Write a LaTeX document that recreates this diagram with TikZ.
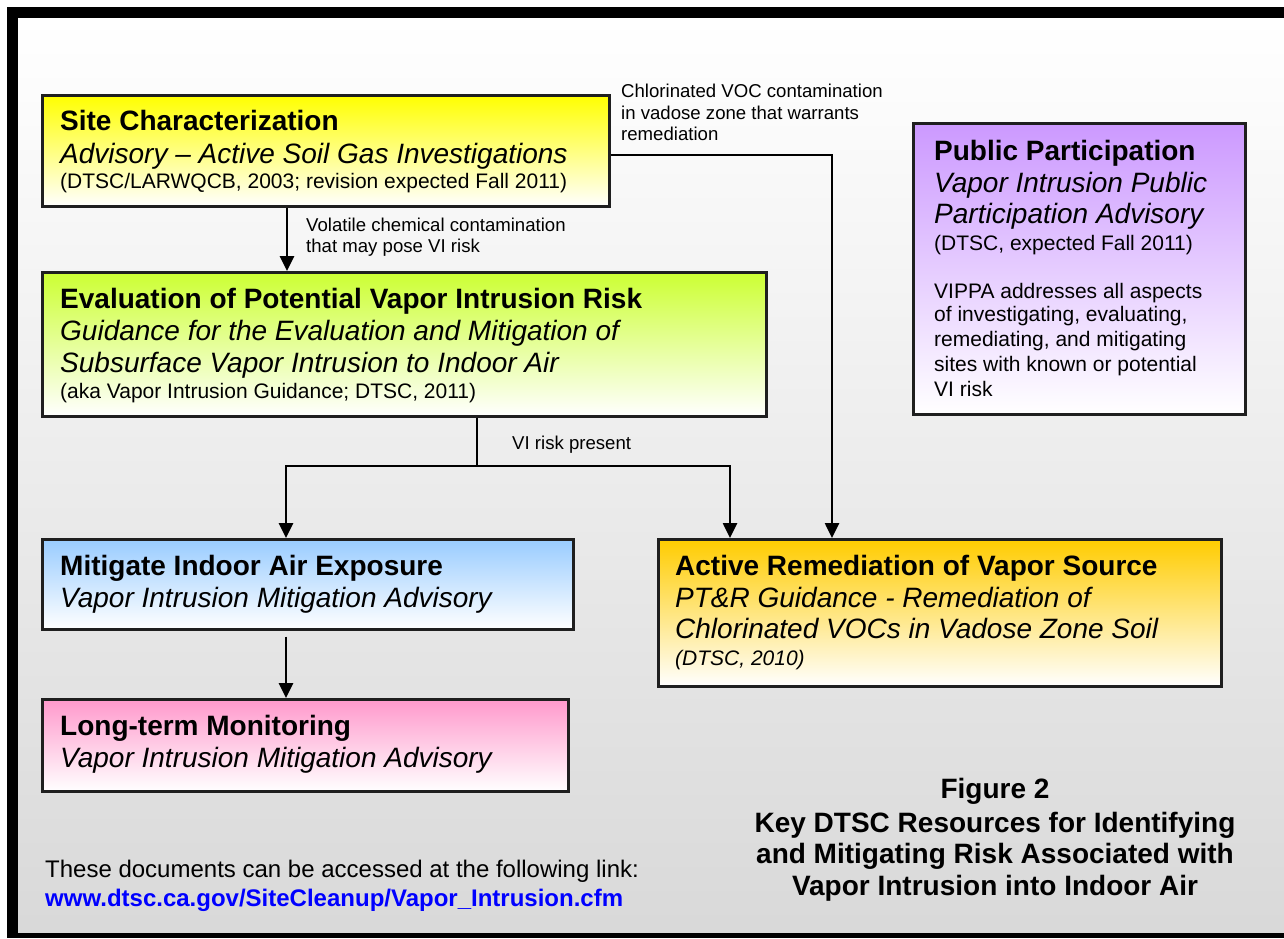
\documentclass[tikz,border=0pt]{standalone}
\usepackage{fontspec}
\setmainfont{Liberation Sans}
\usetikzlibrary{arrows.meta}
\definecolor{cyel}{HTML}{FFFF00}
\definecolor{cgrn}{HTML}{CCFF33}
\definecolor{cpur}{HTML}{CC99FF}
\definecolor{cblu}{HTML}{99CCFF}
\definecolor{cpnk}{HTML}{FF99CC}
\definecolor{corg}{HTML}{FFCC00}
\definecolor{clink}{HTML}{0000FF}
\begin{document}
\begin{tikzpicture}[x=1pt,y=-1pt,
  box/.style={draw=black!88, line width=2.6pt, inner sep=0pt, anchor=north west, bottom color=white},
  hd/.style={font=\fontsize{28}{32}\selectfont\bfseries, inner sep=0pt, anchor=base west},
  itl/.style={font=\fontsize{28}{32}\selectfont\itshape, inner sep=0pt, anchor=base west},
  sml/.style={font=\fontsize{21}{25}\selectfont, inner sep=0pt, anchor=base west},
  lbl/.style={font=\fontsize{18.6}{22}\selectfont, inner sep=0pt, anchor=base west},
  capt/.style={font=\fontsize{28}{32}\selectfont\bfseries, inner sep=0pt, anchor=base},
  foot/.style={font=\fontsize{24}{28}\selectfont, inner sep=0pt, anchor=base west},
  conn/.style={line width=2.6pt, draw=black},
  arr/.style={conn, -{Triangle[length=15pt,width=14pt]}}
]
\useasboundingbox (0,0) rectangle (1284,938);
% frame and background
\fill[white] (0,0) rectangle (1284,938);
\fill[black] (7,7) rectangle (1284,938);
\shade[top color=white, bottom color=black!15] (18,18) rectangle (1284,932);

% boxes
\node[box, top color=cyel, minimum width=567pt, minimum height=111pt] (site) at (41,94) {};
\node[box, top color=cgrn, minimum width=724pt, minimum height=144pt] (eval) at (41,271) {};
\node[box, top color=cpur, minimum width=332pt, minimum height=291pt] (pub) at (912,122) {};
\node[box, top color=cblu, minimum width=531pt, minimum height=90pt] (mit) at (41,538) {};
\node[box, top color=cpnk, minimum width=526pt, minimum height=92pt] (lt) at (41,698) {};
\node[box, top color=corg, minimum width=563pt, minimum height=147pt] (act) at (657,538) {};

% box texts
\node[hd] (siteA) at (60,130) {Site Characterization};
\node[itl] (siteB) at (60,163) {Advisory -- Active Soil Gas Investigations};
\node[sml] (siteC) at (60,188) {(DTSC/LARWQCB, 2003; revision expected Fall 2011)};

\node[hd] (evalA) at (60,308) {Evaluation of Potential Vapor Intrusion Risk};
\node[itl] (evalB) at (60,340) {Guidance for the Evaluation and Mitigation of};
\node[itl] (evalC) at (60,372) {Subsurface Vapor Intrusion to Indoor Air};
\node[sml] (evalD) at (60,398) {(aka Vapor Intrusion Guidance; DTSC, 2011)};

\node[hd] (pubA) at (934,160) {Public Participation};
\node[itl] (pubB) at (934,192) {Vapor Intrusion Public};
\node[itl] (pubC) at (934,223) {Participation Advisory};
\node[sml] (pubD) at (934,250) {(DTSC, expected Fall 2011)};
\node[sml] (pubE) at (934,298) {VIPPA addresses all aspects};
\node[sml] (pubF) at (934,321) {of investigating, evaluating,};
\node[sml] (pubG) at (934,346) {remediating, and mitigating};
\node[sml] (pubH) at (934,371) {sites with known or potential};
\node[sml] (pubI) at (934,396) {VI risk};

\node[hd] (mitA) at (60,575) {Mitigate Indoor Air Exposure};
\node[itl] (mitB) at (60,607) {Vapor Intrusion Mitigation Advisory};

\node[hd] (ltA) at (60,735) {Long-term Monitoring};
\node[itl] (ltB) at (60,767) {Vapor Intrusion Mitigation Advisory};

\node[hd] (actA) at (675,575) {Active Remediation of Vapor Source};
\node[itl] (actB) at (675,607) {PT\&R Guidance - Remediation of};
\node[itl] (actC) at (675,638) {Chlorinated VOCs in Vadose Zone Soil};
\node[sml, font=\fontsize{21}{25}\selectfont\itshape] (actD) at (675,665) {(DTSC, 2010)};

% connector labels
\node[lbl] (lblA1) at (621,97) {Chlorinated VOC contamination};
\node[lbl] (lblA2) at (621,119) {in vadose zone that warrants};
\node[lbl] (lblA3) at (621,140) {remediation};
\node[lbl] (lblB1) at (306,231) {Volatile chemical contamination};
\node[lbl] (lblB2) at (306,252) {that may pose VI risk};
\node[lbl] (lblC) at (512,449) {VI risk present};

% connectors
\coordinate (xa) at (287,0);
\coordinate (ya) at (0,155);
\coordinate (xb) at (832,0);
\coordinate (xs) at (477,0);
\coordinate (xl) at (286,0);
\coordinate (xr) at (730,0);
\coordinate (split) at (477,466);

\draw[arr] (site.south -| xa) -- (eval.north -| xa);
\draw[arr] (site.east |- ya) -| (act.north -| xb);
\draw[conn] (eval.south -| xs) -- (split);
\draw[arr] (split) -| (mit.north -| xl);
\draw[arr] (split) -| (act.north -| xr);
\draw[arr] ([yshift=-6pt]mit.south -| xl) -- (lt.north -| xl);

% caption
\node[capt] (capA) at (995,798) {Figure 2};
\node[capt] (capB) at (995,832) {Key DTSC Resources for Identifying};
\node[capt] (capC) at (995,863) {and Mitigating Risk Associated with};
\node[capt] (capD) at (995,895) {Vapor Intrusion into Indoor Air};

% footer
\node[foot] (footA) at (45,877) {These documents can be accessed at the following link:};
\node[foot, font=\fontsize{24}{28}\selectfont\bfseries, text=clink] (footB) at (45,906) {www.dtsc.ca.gov/SiteCleanup/Vapor\_Intrusion.cfm};
\end{tikzpicture}
\end{document}
